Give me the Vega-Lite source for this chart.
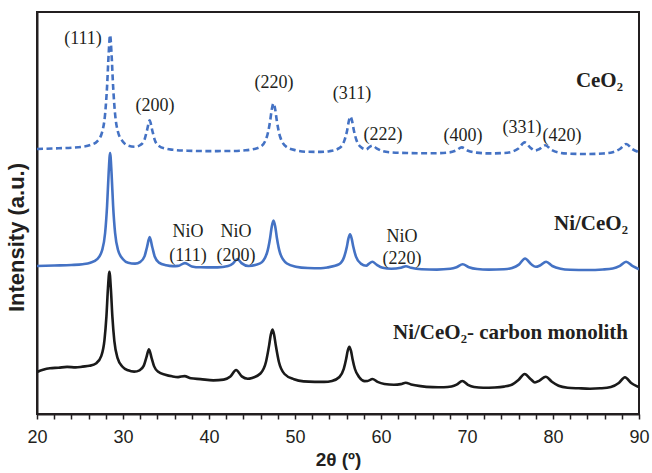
{
  "$schema": "https://vega.github.io/schema/vega-lite/v6.json",
  "width": 602,
  "height": 402,
  "autosize": {"type": "none"},
  "padding": {"left": 37, "top": 12, "right": 13, "bottom": 59},
  "background": "white",
  "config": {
    "view": {"stroke": "#231f20", "strokeWidth": 2},
    "text": {"color": "#231f20"}
  },
  "datasets": {
    "xrd": [
      {"series":"c","x":20,"y":265},{"series":"c","x":22,"y":265.6},{"series":"c","x":24,"y":266.3},{"series":"c","x":25.3,"y":267.3},{"series":"c","x":26.2,"y":269},{"series":"c","x":27.0,"y":272.7},{"series":"c","x":27.58,"y":282.2},{"series":"c","x":27.92,"y":300},{"series":"c","x":28.15,"y":327.8},{"series":"c","x":28.33,"y":359.7},{"series":"c","x":28.5,"y":379},{"series":"c","x":28.67,"y":359.6},{"series":"c","x":28.85,"y":327.7},{"series":"c","x":29.08,"y":300},{"series":"c","x":29.42,"y":282},{"series":"c","x":30.0,"y":272.3},{"series":"c","x":30.6,"y":268.4},{"series":"c","x":31.4,"y":267.2},{"series":"c","x":32.02,"y":269},{"series":"c","x":32.5,"y":274.4},{"series":"c","x":32.8,"y":283.9},{"series":"c","x":33.1,"y":293.6},{"series":"c","x":33.4,"y":283.7},{"series":"c","x":33.7,"y":273.9},{"series":"c","x":34.18,"y":268},{"series":"c","x":35.02,"y":265.2},{"series":"c","x":35.8,"y":264.2},{"series":"c","x":37.5,"y":263.3},{"series":"c","x":40,"y":262.9},{"series":"c","x":42.5,"y":263},{"series":"c","x":44.25,"y":263.7},{"series":"c","x":45.94,"y":267},{"series":"c","x":46.72,"y":277},{"series":"c","x":47.11,"y":293.1},{"series":"c","x":47.3,"y":304.6},{"series":"c","x":47.5,"y":310.6},{"series":"c","x":47.7,"y":304.6},{"series":"c","x":47.89,"y":293},{"series":"c","x":48.28,"y":277},{"series":"c","x":49.06,"y":266.8},{"series":"c","x":50.1,"y":263.7},{"series":"c","x":51.5,"y":262.2},{"series":"c","x":53,"y":262.1},{"series":"c","x":54.0,"y":262.8},{"series":"c","x":55.14,"y":265.8},{"series":"c","x":55.76,"y":273.8},{"series":"c","x":56.08,"y":284.3},{"series":"c","x":56.26,"y":292.9},{"series":"c","x":56.45,"y":297.3},{"series":"c","x":56.64,"y":292.9},{"series":"c","x":56.83,"y":284.3},{"series":"c","x":57.14,"y":274},{"series":"c","x":57.76,"y":266.3},{"series":"c","x":58.3,"y":264.6},{"series":"c","x":58.55,"y":266.2},{"series":"c","x":59.0,"y":268.4},{"series":"c","x":59.48,"y":265.7},{"series":"c","x":60.2,"y":262.8},{"series":"c","x":61.2,"y":261.6},{"series":"c","x":63,"y":261},{"series":"c","x":66,"y":260.7},{"series":"c","x":67.96,"y":261.6},{"series":"c","x":68.68,"y":263.3},{"series":"c","x":69.4,"y":266.6},{"series":"c","x":70.12,"y":263.3},{"series":"c","x":71.08,"y":261.4},{"series":"c","x":72.5,"y":260.6},{"series":"c","x":74.3,"y":261},{"series":"c","x":75.26,"y":262.4},{"series":"c","x":75.98,"y":265.5},{"series":"c","x":76.7,"y":271.6},{"series":"c","x":77.42,"y":265.9},{"series":"c","x":77.9,"y":263.5},{"series":"c","x":78.38,"y":264.8},{"series":"c","x":79.1,"y":268.7},{"series":"c","x":79.82,"y":264.2},{"series":"c","x":80.78,"y":261.3},{"series":"c","x":82,"y":260.3},{"series":"c","x":84,"y":260},{"series":"c","x":85.8,"y":260.5},{"series":"c","x":86.94,"y":261.8},{"series":"c","x":87.78,"y":265},{"series":"c","x":88.5,"y":270},{"series":"c","x":89.22,"y":265},{"series":"c","x":90,"y":261.8},

      {"series":"n","x":20,"y":148},{"series":"n","x":22,"y":148.5},{"series":"n","x":24,"y":149},{"series":"n","x":25.3,"y":149.8},{"series":"n","x":26.2,"y":151.3},{"series":"n","x":27.0,"y":154.8},{"series":"n","x":27.58,"y":164},{"series":"n","x":27.92,"y":181},{"series":"n","x":28.15,"y":208.3},{"series":"n","x":28.33,"y":240.7},{"series":"n","x":28.5,"y":261},{"series":"n","x":28.67,"y":240.7},{"series":"n","x":28.85,"y":208.3},{"series":"n","x":29.08,"y":181.1},{"series":"n","x":29.42,"y":164},{"series":"n","x":30.0,"y":154.8},{"series":"n","x":30.6,"y":151.3},{"series":"n","x":31.4,"y":150.4},{"series":"n","x":32.02,"y":152.2},{"series":"n","x":32.5,"y":157.6},{"series":"n","x":32.8,"y":167.2},{"series":"n","x":33.1,"y":176.9},{"series":"n","x":33.4,"y":167},{"series":"n","x":33.7,"y":157.2},{"series":"n","x":34.18,"y":151.4},{"series":"n","x":35.02,"y":148.7},{"series":"n","x":35.8,"y":147.9},{"series":"n","x":36.4,"y":148.1},{"series":"n","x":37.2,"y":150.9},{"series":"n","x":38.0,"y":147.6},{"series":"n","x":39,"y":146.7},{"series":"n","x":41,"y":146.6},{"series":"n","x":42.22,"y":147.9},{"series":"n","x":42.82,"y":150.8},{"series":"n","x":43.3,"y":155},{"series":"n","x":43.78,"y":150.9},{"series":"n","x":44.6,"y":148},{"series":"n","x":45.94,"y":150.6},{"series":"n","x":46.72,"y":160.5},{"series":"n","x":47.11,"y":176.3},{"series":"n","x":47.3,"y":187.6},{"series":"n","x":47.5,"y":193.5},{"series":"n","x":47.7,"y":187.6},{"series":"n","x":47.89,"y":176.3},{"series":"n","x":48.28,"y":160.5},{"series":"n","x":49.06,"y":150.5},{"series":"n","x":50.1,"y":147.3},{"series":"n","x":51.5,"y":146},{"series":"n","x":53,"y":145.8},{"series":"n","x":53.78,"y":146.6},{"series":"n","x":55.15,"y":149.9},{"series":"n","x":55.71,"y":157},{"series":"n","x":56.03,"y":167.2},{"series":"n","x":56.21,"y":175.4},{"series":"n","x":56.4,"y":179.7},{"series":"n","x":56.59,"y":175.4},{"series":"n","x":56.78,"y":167.2},{"series":"n","x":57.09,"y":157.4},{"series":"n","x":57.65,"y":150.4},{"series":"n","x":58.3,"y":148.3},{"series":"n","x":58.55,"y":149.9},{"series":"n","x":59.0,"y":152.2},{"series":"n","x":59.48,"y":149.4},{"series":"n","x":60.2,"y":146.3},{"series":"n","x":61.2,"y":145.3},{"series":"n","x":62.3,"y":146.2},{"series":"n","x":62.9,"y":147.8},{"series":"n","x":63.5,"y":146.2},{"series":"n","x":64.7,"y":144.7},{"series":"n","x":66.5,"y":144.4},{"series":"n","x":68.06,"y":145.2},{"series":"n","x":68.78,"y":146.8},{"series":"n","x":69.5,"y":149.7},{"series":"n","x":70.22,"y":146.8},{"series":"n","x":71.18,"y":145},{"series":"n","x":72.5,"y":144.4},{"series":"n","x":74.3,"y":144.8},{"series":"n","x":75.25,"y":146.1},{"series":"n","x":76.03,"y":149.4},{"series":"n","x":76.75,"y":155.5},{"series":"n","x":77.47,"y":149.7},{"series":"n","x":78.0,"y":147.2},{"series":"n","x":78.48,"y":148.5},{"series":"n","x":79.2,"y":152.3},{"series":"n","x":79.92,"y":148},{"series":"n","x":80.88,"y":145.3},{"series":"n","x":82,"y":144.3},{"series":"n","x":84,"y":144},{"series":"n","x":85.8,"y":144.5},{"series":"n","x":86.94,"y":145.5},{"series":"n","x":87.78,"y":148.2},{"series":"n","x":88.5,"y":152.3},{"series":"n","x":89.22,"y":148.2},{"series":"n","x":90,"y":144.8},

      {"series":"k","x":20,"y":42},{"series":"k","x":20.7,"y":44.3},{"series":"k","x":21.5,"y":45.8},{"series":"k","x":22.5,"y":46.3},{"series":"k","x":23.5,"y":47.1},{"series":"k","x":24.5,"y":46.6},{"series":"k","x":25.3,"y":47.4},{"series":"k","x":26.1,"y":48.2},{"series":"k","x":26.9,"y":50.8},{"series":"k","x":27.48,"y":58.2},{"series":"k","x":27.845,"y":73.9},{"series":"k","x":28.075,"y":97.9},{"series":"k","x":28.25,"y":125.6},{"series":"k","x":28.42,"y":142.3},{"series":"k","x":28.59,"y":125.2},{"series":"k","x":28.765,"y":97.3},{"series":"k","x":28.995,"y":72.9},{"series":"k","x":29.36,"y":56.1},{"series":"k","x":29.94,"y":47.3},{"series":"k","x":30.6,"y":43.7},{"series":"k","x":31.3,"y":42.4},{"series":"k","x":31.92,"y":43.7},{"series":"k","x":32.42,"y":48.4},{"series":"k","x":32.72,"y":56.6},{"series":"k","x":33.02,"y":64.7},{"series":"k","x":33.32,"y":56.2},{"series":"k","x":33.62,"y":47.65},{"series":"k","x":34.1,"y":42.2},{"series":"k","x":34.92,"y":39.35},{"series":"k","x":35.7,"y":37.7},{"series":"k","x":36.4,"y":36.9},{"series":"k","x":37.15,"y":37.9},{"series":"k","x":37.9,"y":35.7},{"series":"k","x":39,"y":34.9},{"series":"k","x":40.5,"y":33.6},{"series":"k","x":41.7,"y":34.4},{"series":"k","x":42.49,"y":37.5},{"series":"k","x":43.15,"y":44},{"series":"k","x":43.81,"y":37.6},{"series":"k","x":44.5,"y":35.3},{"series":"k","x":45.0,"y":36.1},{"series":"k","x":45.98,"y":40.5},{"series":"k","x":46.63,"y":52.3},{"series":"k","x":46.99,"y":68.6},{"series":"k","x":47.19,"y":79.4},{"series":"k","x":47.38,"y":84.5},{"series":"k","x":47.57,"y":79.3},{"series":"k","x":47.77,"y":68.5},{"series":"k","x":48.13,"y":52},{"series":"k","x":48.78,"y":40},{"series":"k","x":49.88,"y":34.75},{"series":"k","x":51,"y":32.6},{"series":"k","x":52.3,"y":32.15},{"series":"k","x":53.4,"y":32.1},{"series":"k","x":54.3,"y":33.1},{"series":"k","x":55.17,"y":37},{"series":"k","x":55.67,"y":45.1},{"series":"k","x":55.945,"y":54.9},{"series":"k","x":56.13,"y":63.2},{"series":"k","x":56.32,"y":67.3},{"series":"k","x":56.51,"y":63.1},{"series":"k","x":56.695,"y":54.8},{"series":"k","x":56.97,"y":45},{"series":"k","x":57.47,"y":36.8},{"series":"k","x":58.1,"y":32.9},{"series":"k","x":58.45,"y":33},{"series":"k","x":59.0,"y":35},{"series":"k","x":59.6,"y":32.1},{"series":"k","x":60.4,"y":30.05},{"series":"k","x":61.5,"y":29.3},{"series":"k","x":62.3,"y":29.9},{"series":"k","x":62.87,"y":31.3},{"series":"k","x":63.5,"y":29.6},{"series":"k","x":64.6,"y":27.9},{"series":"k","x":66,"y":26.9},{"series":"k","x":67.3,"y":26.7},{"series":"k","x":68.19,"y":27.5},{"series":"k","x":68.79,"y":29.3},{"series":"k","x":69.45,"y":33},{"series":"k","x":70.11,"y":29.2},{"series":"k","x":70.83,"y":27},{"series":"k","x":71.9,"y":26.2},{"series":"k","x":73.2,"y":26.5},{"series":"k","x":74.3,"y":27.4},{"series":"k","x":75.26,"y":29.5},{"series":"k","x":75.98,"y":33.95},{"series":"k","x":76.7,"y":40},{"series":"k","x":77.42,"y":34.8},{"series":"k","x":77.9,"y":31.55},{"series":"k","x":78.43,"y":33.4},{"series":"k","x":79.15,"y":37.3},{"series":"k","x":79.87,"y":32.3},{"series":"k","x":80.65,"y":28.3},{"series":"k","x":81.7,"y":26.3},{"series":"k","x":83,"y":25.7},{"series":"k","x":84.3,"y":25.3},{"series":"k","x":85.5,"y":25.7},{"series":"k","x":86.73,"y":27},{"series":"k","x":87.65,"y":31},{"series":"k","x":88.37,"y":36.8},{"series":"k","x":89.09,"y":31},{"series":"k","x":89.73,"y":27.9},{"series":"k","x":90,"y":26.9}
    ],
    "hkl": [
      {"x":25.35,"y":375.5,"text":"(111)"},
      {"x":33.72,"y":308,"text":"(200)"},
      {"x":47.56,"y":331,"text":"(220)"},
      {"x":56.63,"y":320,"text":"(311)"},
      {"x":60.23,"y":279,"text":"(222)"},
      {"x":69.53,"y":278,"text":"(400)"},
      {"x":76.4,"y":286,"text":"(331)"},
      {"x":81.05,"y":278,"text":"(420)"},
      {"x":37.56,"y":182,"text":"NiO"},
      {"x":37.56,"y":158,"text":"(111)"},
      {"x":43.14,"y":182,"text":"NiO"},
      {"x":43.14,"y":158,"text":"(200)"},
      {"x":62.44,"y":177,"text":"NiO"},
      {"x":62.44,"y":155,"text":"(220)"}
    ],
    "samples": [
      {"x":88.14,"y":327,"text":"CeO₂"},
      {"x":88.72,"y":184,"text":"Ni/CeO₂"},
      {"x":88.72,"y":75,"text":"Ni/CeO₂- carbon monolith"}
    ]
  },
  "layer": [
    {
      "data": {"name": "xrd"},
      "transform": [{"filter": "datum.series === 'c'"}],
      "mark": {"type": "line", "color": "#4472c4", "strokeWidth": 2.6, "strokeDash": [6, 3.5], "interpolate": "monotone", "clip": true},
      "encoding": {
        "x": {"field": "x", "type": "quantitative", "scale": {"domain": [20, 90], "nice": false, "zero": false},
          "axis": {"title": "2θ (º)", "values": [20,22,24,26,28,30,32,34,36,38,40,42,44,46,48,50,52,54,56,58,60,62,64,66,68,70,72,74,76,78,80,82,84,86,88,90],
            "tickCount": 40,
            "labelExpr": "datum.value % 10 === 0 ? datum.label : ''", "labelOverlap": false, "labelFlush": false,
            "grid": false, "domainColor": "#231f20", "domainWidth": 2, "tickColor": "#231f20", "tickWidth": 1.5, "tickSize": 5,
            "labelFont": "Liberation Sans", "labelFontSize": 18, "labelColor": "#231f20", "labelPadding": 9,
            "titleFont": "Liberation Sans", "titleFontSize": 19, "titleFontWeight": "bold", "titleColor": "#231f20", "titlePadding": 4}},
        "y": {"field": "y", "type": "quantitative", "scale": {"domain": [0, 402], "nice": false, "zero": false},
          "axis": {"title": "Intensity (a.u.)", "labels": false, "ticks": false, "grid": false, "domainColor": "#231f20", "domainWidth": 2,
            "titleFont": "Liberation Sans", "titleFontSize": 22, "titleFontWeight": "bold", "titleColor": "#231f20", "titlePadding": 9, "titleY": 225}}
      }
    },
    {
      "data": {"name": "xrd"},
      "transform": [{"filter": "datum.series === 'n'"}],
      "mark": {"type": "line", "color": "#4472c4", "strokeWidth": 2.6, "interpolate": "monotone", "clip": true},
      "encoding": {
        "x": {"field": "x", "type": "quantitative"},
        "y": {"field": "y", "type": "quantitative"}
      }
    },
    {
      "data": {"name": "xrd"},
      "transform": [{"filter": "datum.series === 'k'"}],
      "mark": {"type": "line", "color": "#1a1a1a", "strokeWidth": 2.6, "interpolate": "monotone", "clip": true},
      "encoding": {
        "x": {"field": "x", "type": "quantitative"},
        "y": {"field": "y", "type": "quantitative"}
      }
    },
    {
      "data": {"name": "hkl"},
      "mark": {"type": "text", "font": "Liberation Serif", "fontSize": 18, "align": "center", "baseline": "middle", "color": "#231f20"},
      "encoding": {
        "x": {"field": "x", "type": "quantitative"},
        "y": {"field": "y", "type": "quantitative"},
        "text": {"field": "text"}
      }
    },
    {
      "data": {"name": "samples"},
      "mark": {"type": "text", "font": "Liberation Serif", "fontSize": 21, "fontWeight": "bold", "align": "right", "baseline": "alphabetic", "color": "#231f20"},
      "encoding": {
        "x": {"field": "x", "type": "quantitative"},
        "y": {"field": "y", "type": "quantitative"},
        "text": {"field": "text"}
      }
    }
  ]
}
